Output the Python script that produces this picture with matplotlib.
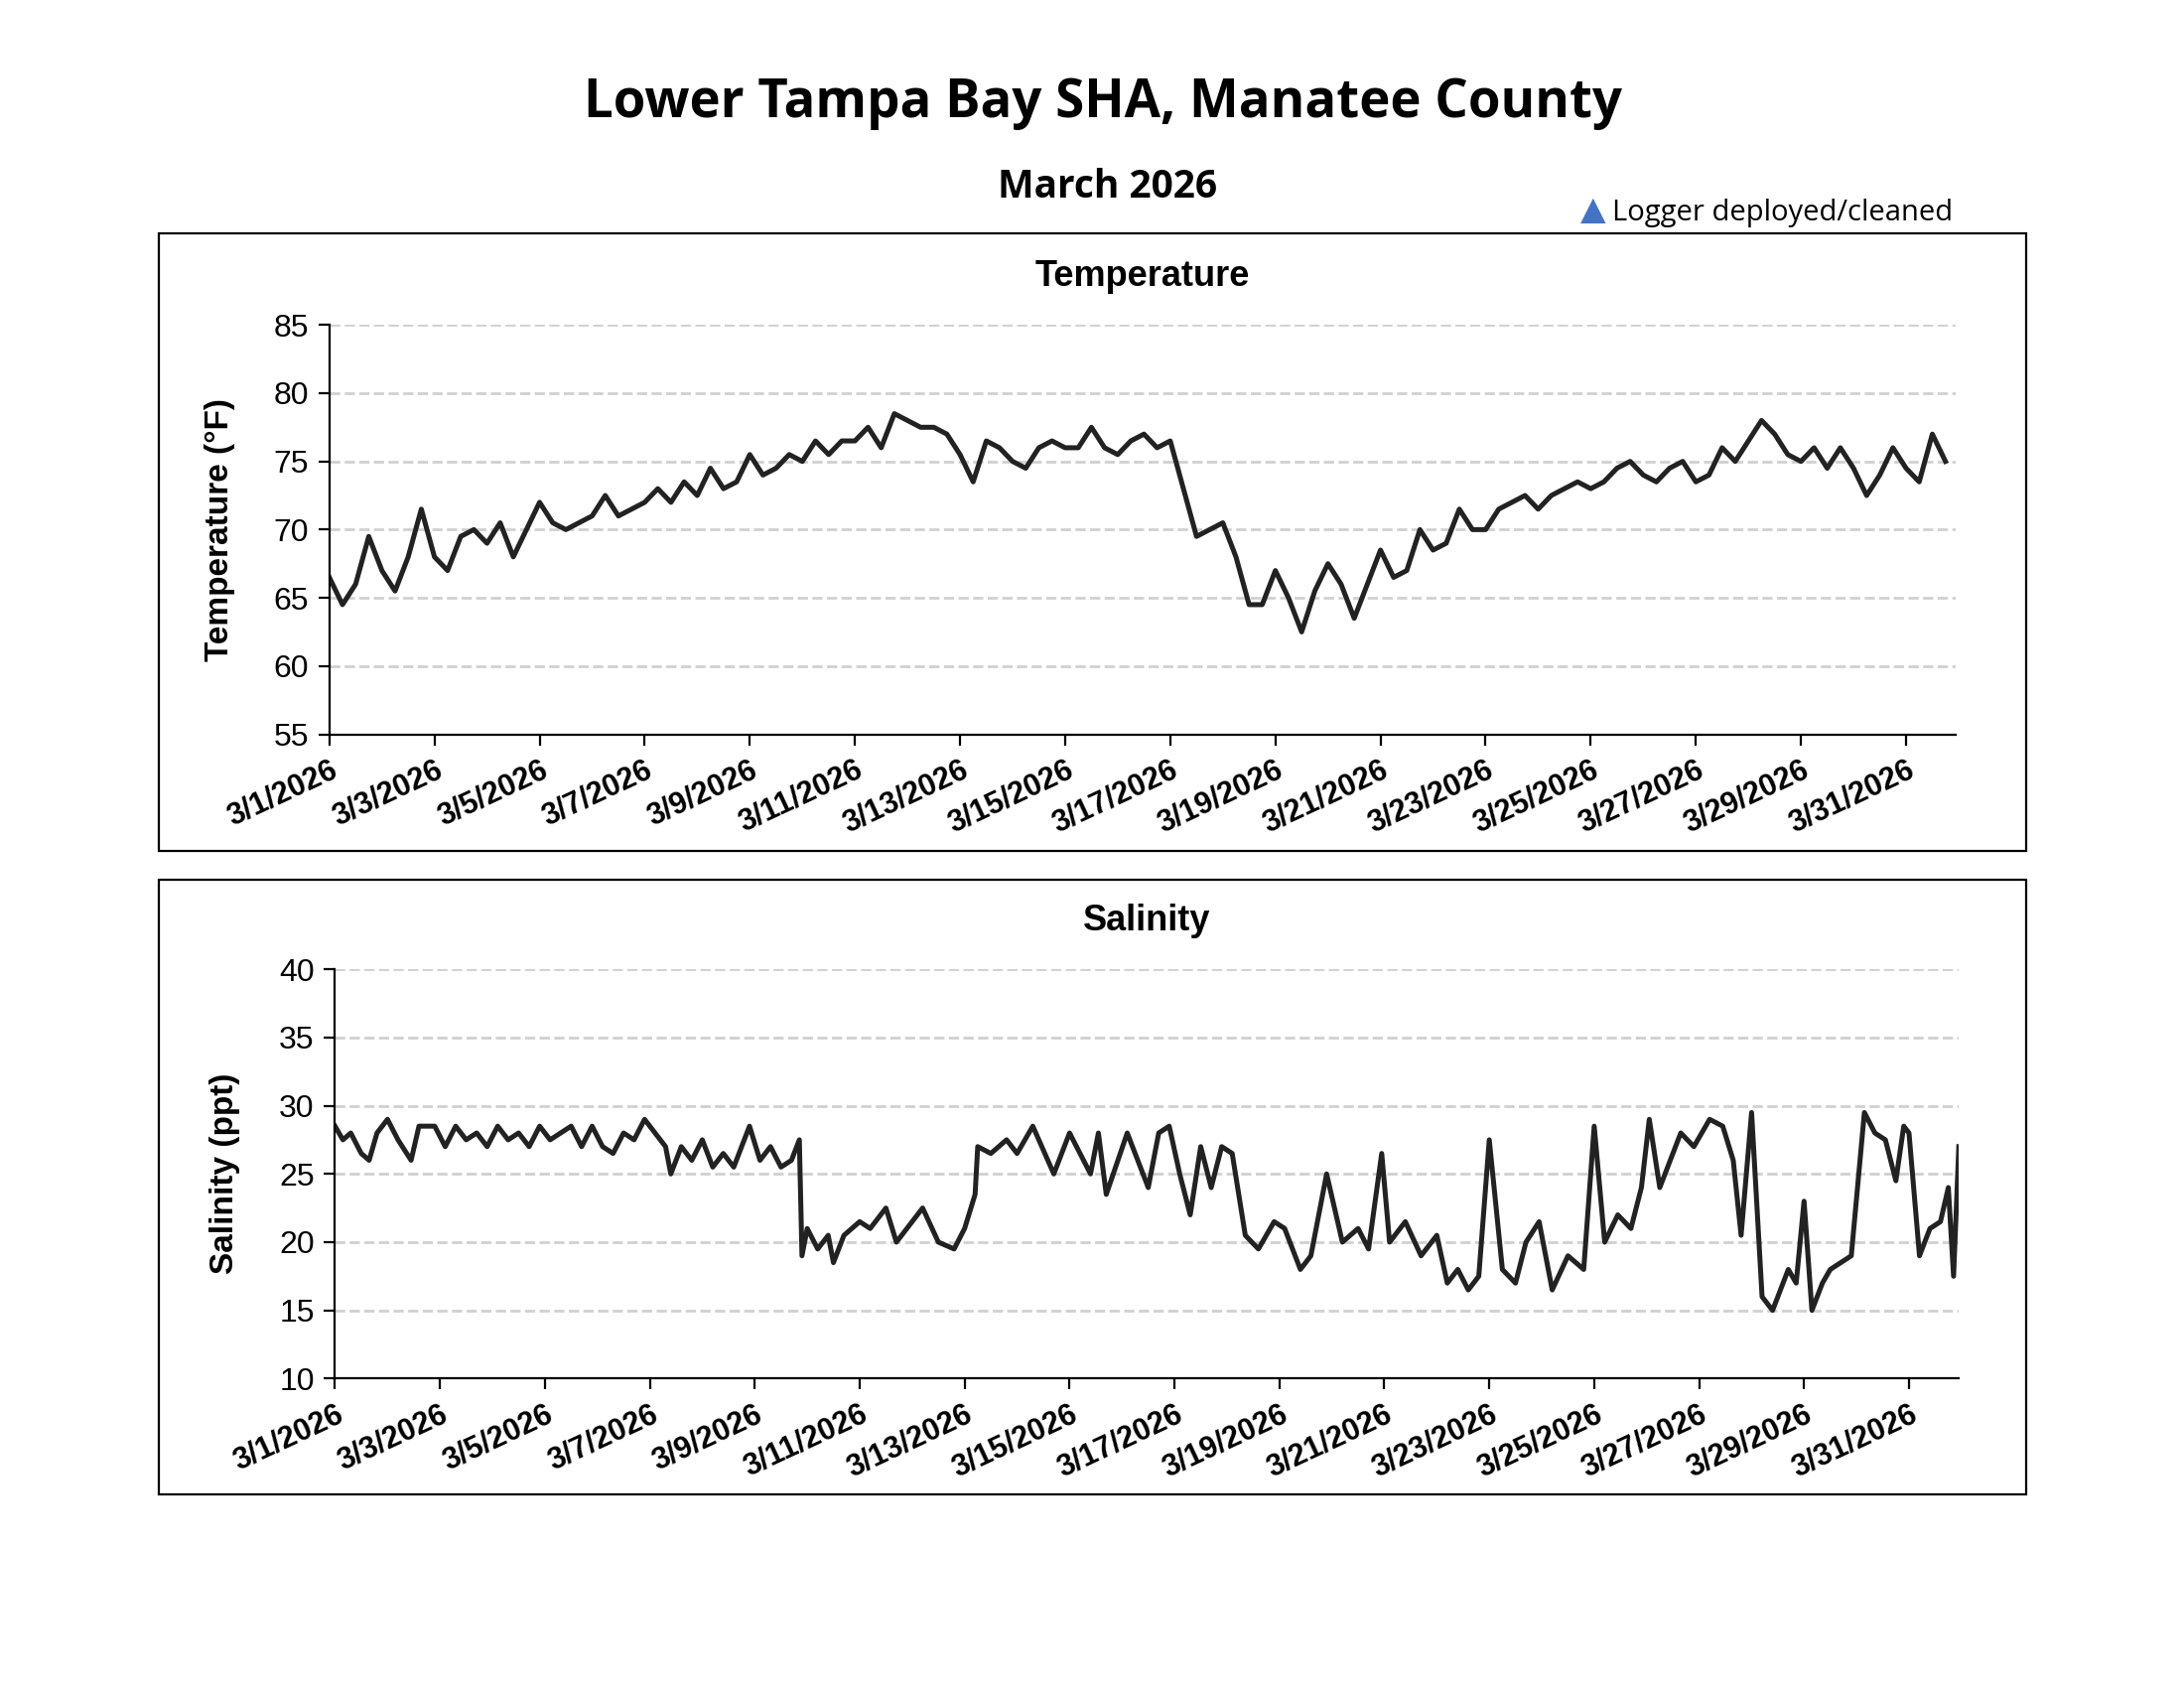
import matplotlib.pyplot as plt
from matplotlib.patches import Rectangle

# temperature, every 6 hours starting 3/1 00:00 (degF)
temp_f = [
    66.5, 64.5, 66, 69.5,   67, 65.5, 68, 71.5,   68, 67, 69.5, 70,
    69, 70.5, 68, 70,       72, 70.5, 70, 70.5,   71, 72.5, 71, 71.5,
    72, 73, 72, 73.5,       72.5, 74.5, 73, 73.5, 75.5, 74, 74.5, 75.5,
    75, 76.5, 75.5, 76.5,   76.5, 77.5, 76, 78.5, 78, 77.5, 77.5, 77,
    75.5, 73.5, 76.5, 76,   75, 74.5, 76, 76.5,   76, 76, 77.5, 76,
    75.5, 76.5, 77, 76,     76.5, 73, 69.5, 70,   70.5, 68, 64.5, 64.5,
    67, 65, 62.5, 65.5,     67.5, 66, 63.5, 66,   68.5, 66.5, 67, 70,
    68.5, 69, 71.5, 70,     70, 71.5, 72, 72.5,   71.5, 72.5, 73, 73.5,
    73, 73.5, 74.5, 75,     74, 73.5, 74.5, 75,   73.5, 74, 76, 75,
    76.5, 78, 77, 75.5,     75, 76, 74.5, 76,     74.5, 72.5, 74, 76,
    74.5, 73.5, 77, 75,
]
temp_day = [i * 0.25 for i in range(len(temp_f))]

# salinity (ppt), read at irregular times (days since 3/1)
sal_day = [0, 0.15, 0.3, 0.5, 0.65, 0.8, 1.0, 1.2, 1.45, 1.6, 1.9, 2.1, 2.3, 2.5, 2.7, 2.9,
           3.1, 3.3, 3.5, 3.7, 3.9, 4.1, 4.3, 4.5, 4.7, 4.9, 5.1, 5.3, 5.5, 5.7, 5.9, 6.1,
           6.3, 6.4, 6.6, 6.8, 7.0, 7.2, 7.4, 7.6, 7.9, 8.1, 8.3, 8.5, 8.7, 8.85, 8.9, 9.0,
           9.2, 9.4, 9.5, 9.7, 10.0, 10.2, 10.5, 10.7, 11.0, 11.2, 11.5, 11.8, 12.0, 12.2,
           12.25, 12.5, 12.8, 13.0, 13.3, 13.7, 14.0, 14.4, 14.55, 14.7, 15.1, 15.3, 15.5,
           15.7, 15.9, 16.1, 16.3, 16.5, 16.7, 16.9, 17.1, 17.35, 17.6, 17.9, 18.1, 18.4,
           18.6, 18.9, 19.2, 19.5, 19.7, 19.95, 20.1, 20.4, 20.7, 21.0, 21.2, 21.4, 21.6,
           21.8, 22.0, 22.25, 22.5, 22.7, 22.95, 23.2, 23.5, 23.8, 24.0, 24.2, 24.45, 24.7,
           24.9, 25.05, 25.25, 25.45, 25.65, 25.9, 26.2, 26.45, 26.65, 26.8, 27.0, 27.2,
           27.4, 27.7, 27.85, 28.0, 28.15, 28.35, 28.5, 28.7, 28.9, 29.15, 29.35, 29.55,
           29.75, 29.9, 30.0, 30.2, 30.4, 30.6, 30.75, 30.85, 30.95]
sal_ppt = [28.5, 27.5, 28, 26.5, 26, 28, 29, 27.5, 26, 28.5, 28.5, 27, 28.5, 27.5, 28, 27,
           28.5, 27.5, 28, 27, 28.5, 27.5, 28, 28.5, 27, 28.5, 27, 26.5, 28, 27.5, 29, 28,
           27, 25, 27, 26, 27.5, 25.5, 26.5, 25.5, 28.5, 26, 27, 25.5, 26, 27.5, 19, 21,
           19.5, 20.5, 18.5, 20.5, 21.5, 21, 22.5, 20, 21.5, 22.5, 20, 19.5, 21, 23.5,
           27, 26.5, 27.5, 26.5, 28.5, 25, 28, 25, 28, 23.5, 28, 26, 24,
           28, 28.5, 25, 22, 27, 24, 27, 26.5, 20.5, 19.5, 21.5, 21, 18,
           19, 25, 20, 21, 19.5, 26.5, 20, 21.5, 19, 20.5, 17, 18, 16.5,
           17.5, 27.5, 18, 17, 20, 21.5, 16.5, 19, 18, 28.5, 20, 22, 21,
           24, 29, 24, 26, 28, 27, 29, 28.5, 26, 20.5, 29.5, 16,
           15, 18, 17, 23, 15, 17, 18, 18.5, 19, 29.5, 28, 27.5,
           24.5, 28.5, 28, 19, 21, 21.5, 24, 17.5, 27]

tick_days = list(range(0, 31, 2))
tick_labels = [f"3/{d + 1}/2026" for d in tick_days]

fig = plt.figure(figsize=(11, 8.5), dpi=200)
plt.rcParams['font.family'] = ['Liberation Sans', 'DejaVu Sans']

fig.text(0.505, 0.939, "Lower Tampa Bay SHA, Manatee County", ha='center', va='center',
         fontsize=19, fontweight='bold', family='Open Sans')
fig.text(0.507, 0.889, "March 2026", ha='center', va='center',
         fontsize=14, fontweight='bold', family='Open Sans')
fig.text(0.7295, 0.8755, "\u25B2", color='#4472C4', ha='center', va='center', fontsize=12,
         family='DejaVu Sans')
fig.text(0.738, 0.874, "Logger deployed/cleaned", ha='left', va='center', fontsize=10.5,
         family='Open Sans')

# outer boxes
for y0, y1 in [(0.496, 0.8617), (0.115, 0.479)]:
    fig.patches.append(Rectangle((0.0728, y0), 0.855, y1 - y0, transform=fig.transFigure,
                                 fill=False, edgecolor='black', linewidth=0.8))


def panel(rect, x, y, ylim, title, ylabel):
    ax = fig.add_axes(rect)
    ax.plot(x, y, color='#222222', linewidth=1.8)
    ax.set_xlim(0, 30.95)
    ax.set_ylim(*ylim)
    ax.set_yticks(range(ylim[0], ylim[1] + 1, 5))
    ax.set_xticks(tick_days)
    ax.set_xticklabels(tick_labels, rotation=25, ha='right', fontsize=11, fontweight='bold',
                       rotation_mode='anchor')
    ax.tick_params(axis='y', labelsize=11.5)
    ax.tick_params(direction='out', length=4)
    ax.yaxis.grid(True, linestyle='--', color='#d0d0d0', linewidth=1)
    ax.set_axisbelow(True)
    for s in ['top', 'right']:
        ax.spines[s].set_visible(False)
    ax.set_title(title, fontsize=13, fontweight='bold', pad=14)
    ax.set_ylabel(ylabel, fontsize=12, fontweight='bold', labelpad=14)
    return ax


panel([0.1508, 0.565, 0.7448, 0.2425], temp_day, temp_f, (55, 85),
      "Temperature", "Temperature (\u00b0F)")
panel([0.1534, 0.1833, 0.7435, 0.2425], sal_day, sal_ppt, (10, 40),
      "Salinity", "Salinity (ppt)")

plt.savefig("out.png", dpi=200)
